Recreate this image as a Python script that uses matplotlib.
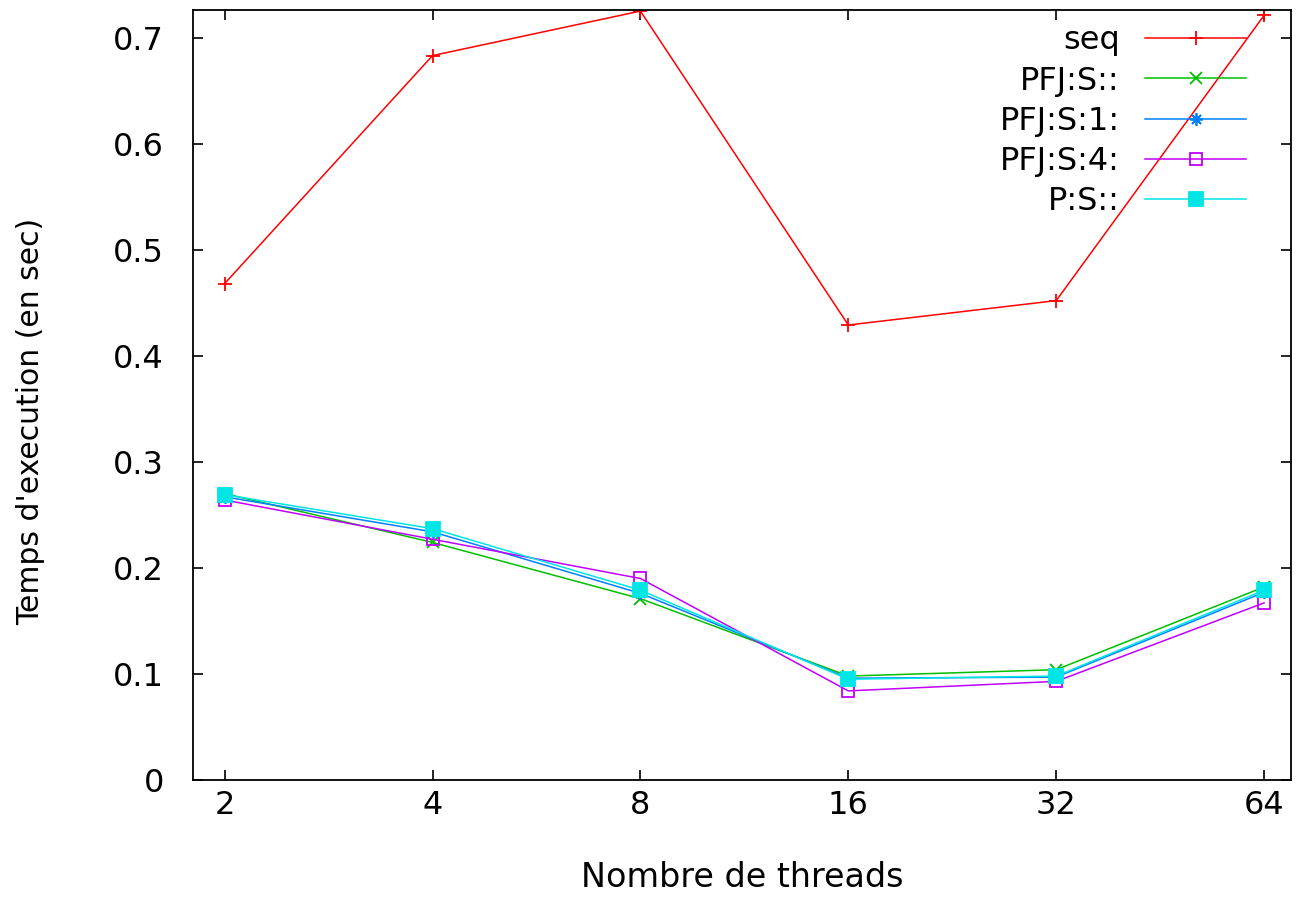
import numpy as np
import matplotlib
matplotlib.use("Agg")
import matplotlib.pyplot as plt

# data
threads = [2, 4, 8, 16, 32, 64]
seq = [0.468, 0.683, 0.725, 0.429, 0.452, 0.721]
pfj_s = [0.270, 0.224, 0.171, 0.098, 0.104, 0.182]
pfj_s1 = [0.267, 0.234, 0.176, 0.096, 0.097, 0.177]
pfj_s4 = [0.264, 0.227, 0.190, 0.084, 0.093, 0.167]
p_s = [0.269, 0.237, 0.179, 0.095, 0.098, 0.179]

labels = ["seq", "PFJ:S::", "PFJ:S:1:", "PFJ:S:4:", "P:S::"]
series = [seq, pfj_s, pfj_s1, pfj_s4, p_s]
colors = ["#ff0000", "#00c000", "#0080ff", "#c000ff", "#00e6e6"]
markers = ["+", "x", (8, 2, 0), "s", "s"]
msizes = [10, 8, 9, 9, 10]

plt.rcParams['font.family'] = ['DejaVu Sans']
fs = 23

fig = plt.figure(figsize=(12.96, 8.98), dpi=100)
ax = fig.add_axes([193/1296, 1 - 780/898, 1098/1296, 770/898])

for lab, ys, c, m, ms in zip(labels, series, colors, markers, msizes):
    filled = not (lab == "PFJ:S:4:")
    ax.plot(threads, ys, color=c, lw=1.1, marker=m, markersize=ms,
            markeredgewidth=1.3,
            markerfacecolor=c if filled else "none",
            markeredgecolor=c, label=lab)

ax.set_xscale("log", base=2)
ax.set_xlim(1.8, 70)
ax.set_ylim(0, 0.726)
ax.set_xticks(threads)
ax.set_xticklabels([str(t) for t in threads])
ax.xaxis.set_minor_locator(matplotlib.ticker.NullLocator())
ax.set_yticks(np.arange(0, 0.71, 0.1))
ax.set_yticklabels(["0"] + ["%.1f" % v for v in np.arange(0.1, 0.71, 0.1)])

ax.tick_params(axis="both", which="major", direction="in", length=7, width=1.2,
               top=True, right=True, labelsize=fs, colors="black")
ax.tick_params(axis="x", pad=7)
ax.tick_params(axis="y", pad=21)
for s in ax.spines.values():
    s.set_linewidth(1.3)

ax.set_xlabel("Nombre de threads", fontsize=fs + 1, va="center")
ax.xaxis.set_label_coords(0.5, -0.127)
ax.set_ylabel("Temps d'execution (en sec)", fontsize=fs - 1.5, va="center")
ax.yaxis.set_label_coords(-0.148, 0.466)

# gnuplot-style key: text right-aligned, sample on the right
leg = ax.legend(loc="upper right", bbox_to_anchor=(0.959, 0.980),
                frameon=False, markerfirst=False, fontsize=fs,
                handlelength=3.15, handletextpad=0.8, labelspacing=0.29,
                borderpad=0, borderaxespad=0)

fig.savefig("out.png", dpi=100)
